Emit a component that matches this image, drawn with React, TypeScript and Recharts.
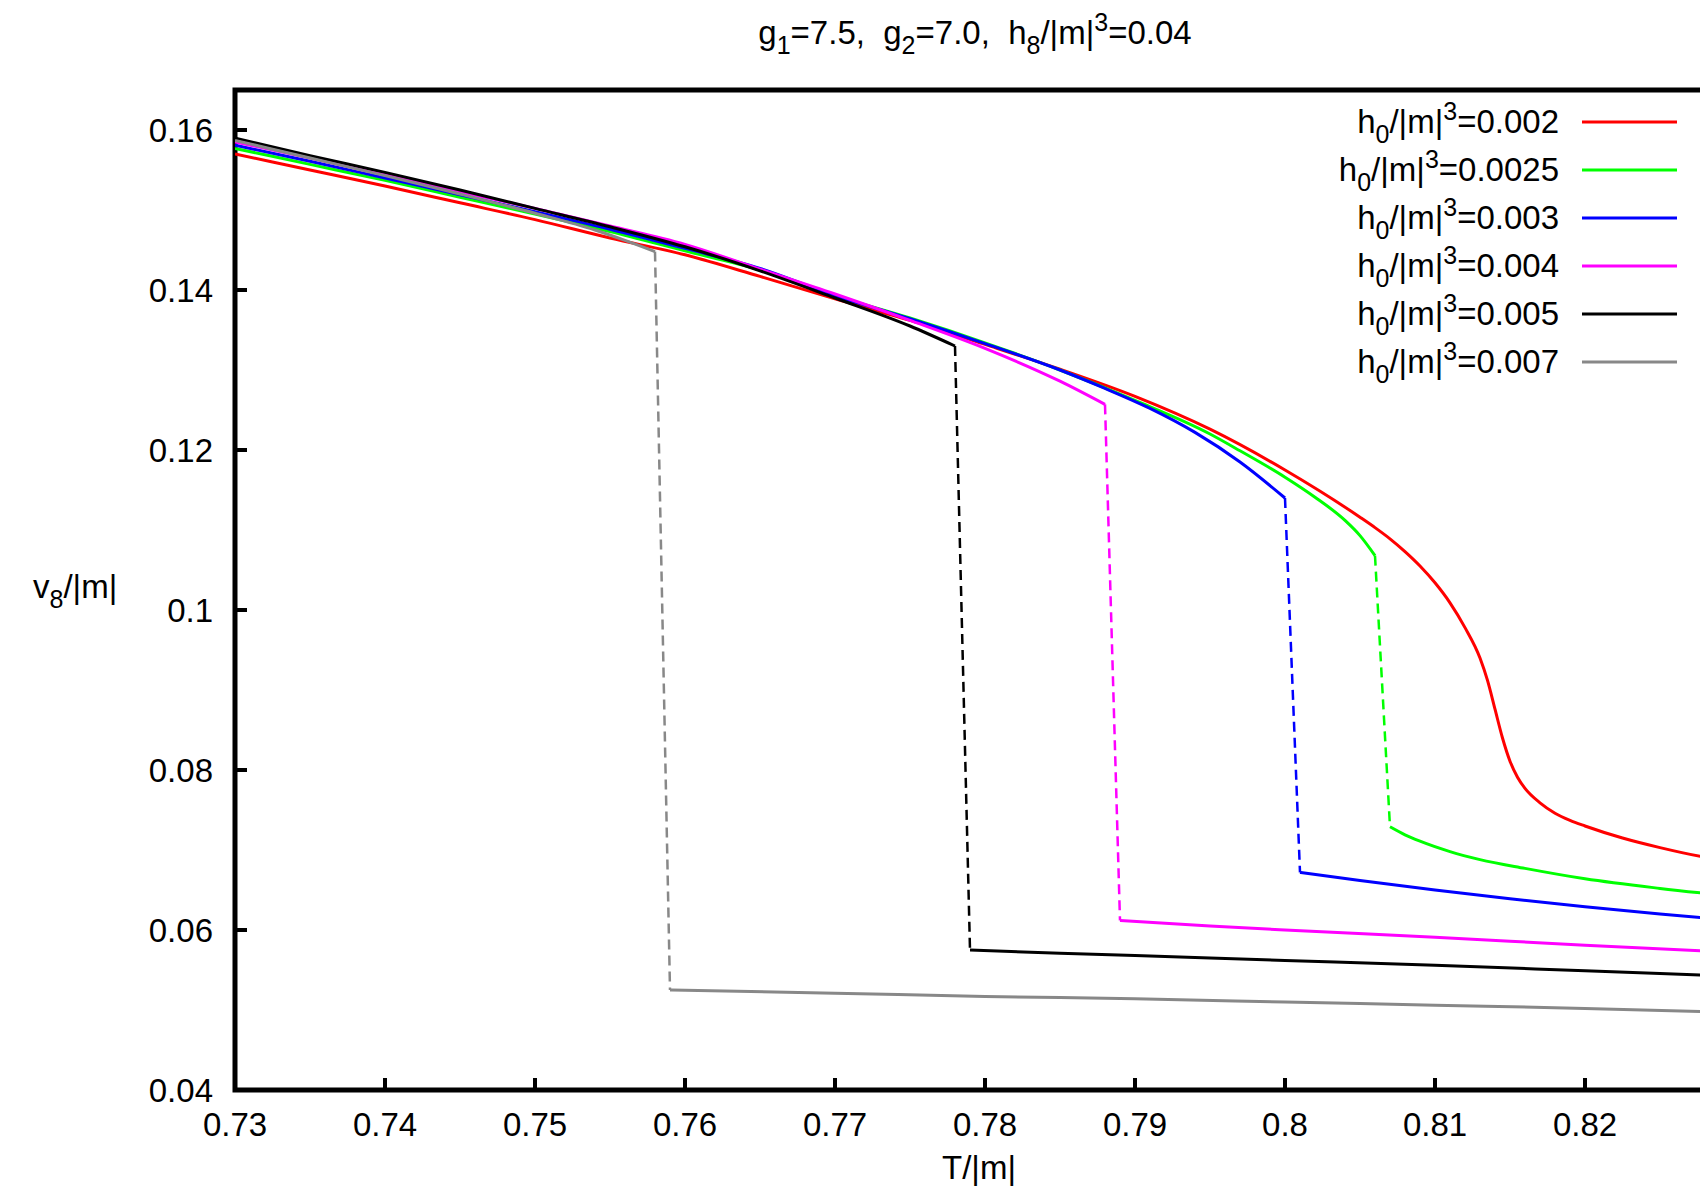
import React from 'react';
import { LineChart, Line, XAxis, YAxis, ReferenceArea, Customized } from 'recharts';

const FONT = '"Liberation Sans", Arial, sans-serif';

const xTicks = [0.73, 0.74, 0.75, 0.76, 0.77, 0.78, 0.79, 0.8, 0.81, 0.82, 0.83];
const xTickLabels = ['0.73', '0.74', '0.75', '0.76', '0.77', '0.78', '0.79', '0.8', '0.81', '0.82', ''];
const yTicks = [0.04, 0.06, 0.08, 0.1, 0.12, 0.14, 0.16];
const yTickLabels = ['0.04', '0.06', '0.08', '0.1', '0.12', '0.14', '0.16'];

const h0Values = ['0.002', '0.0025', '0.003', '0.004', '0.005', '0.007'];
const colors = ['#ff0000', '#00ff00', '#0000ff', '#ff00ff', '#000000', '#888888'];

// h0 = 0.002 (no jump, one smooth curve)
const redT = [0.73, 0.735, 0.74, 0.745, 0.75, 0.755, 0.76, 0.765, 0.77, 0.775, 0.78, 0.785, 0.79, 0.795, 0.8, 0.805, 0.806, 0.807, 0.808, 0.809, 0.81, 0.811, 0.812, 0.813, 0.8135, 0.814, 0.8145, 0.815, 0.8155, 0.816, 0.817, 0.818, 0.819, 0.82, 0.8225, 0.825, 0.8277, 0.83];
const redV = [0.157, 0.155, 0.153, 0.1509, 0.1488, 0.1465, 0.1444, 0.1417, 0.1389, 0.1362, 0.1332, 0.1301, 0.1267, 0.1226, 0.1175, 0.1116, 0.1103, 0.1089, 0.1073, 0.1055, 0.1034, 0.1009, 0.0978, 0.094, 0.0912, 0.0876, 0.084, 0.0811, 0.0791, 0.0777, 0.0759, 0.0746, 0.0737, 0.073, 0.0715, 0.0703, 0.0692, 0.0685];

// h0 = 0.0025
const greenUpperT = [0.73, 0.735, 0.74, 0.745, 0.75, 0.755, 0.76, 0.765, 0.77, 0.775, 0.78, 0.785, 0.79, 0.795, 0.797, 0.8, 0.802, 0.804, 0.805, 0.806];
const greenUpperV = [0.1577, 0.1557, 0.1537, 0.1516, 0.1495, 0.1473, 0.1449, 0.1425, 0.1393, 0.1365, 0.1334, 0.13, 0.1262, 0.122, 0.1199, 0.1166, 0.1141, 0.1112, 0.1093, 0.1068];
const greenLowerT = [0.807, 0.808, 0.809, 0.811, 0.813, 0.816, 0.82, 0.825, 0.83];
const greenLowerV = [0.0729, 0.0719, 0.0711, 0.0698, 0.0688, 0.0677, 0.0664, 0.0652, 0.0642];

// h0 = 0.003
const blueUpperT = [0.73, 0.735, 0.74, 0.745, 0.75, 0.755, 0.76, 0.765, 0.77, 0.775, 0.78, 0.785, 0.788, 0.791, 0.794, 0.797, 0.8];
const blueUpperV = [0.1581, 0.1561, 0.154, 0.1519, 0.1498, 0.1476, 0.1452, 0.1427, 0.1393, 0.1364, 0.1333, 0.13, 0.1277, 0.1252, 0.1222, 0.1185, 0.114];
const blueLowerT = [0.801, 0.805, 0.81, 0.815, 0.82, 0.825, 0.83];
const blueLowerV = [0.0672, 0.0662, 0.065, 0.0639, 0.0629, 0.062, 0.0612];

// h0 = 0.004
const magentaUpperT = [0.73, 0.735, 0.74, 0.745, 0.75, 0.755, 0.76, 0.765, 0.77, 0.775, 0.78, 0.785, 0.788];
const magentaUpperV = [0.1585, 0.1565, 0.1544, 0.1523, 0.1502, 0.148, 0.1457, 0.1426, 0.1395, 0.1362, 0.1327, 0.1286, 0.1257];
const magentaLowerT = [0.789, 0.795, 0.8, 0.81, 0.82, 0.83];
const magentaLowerV = [0.0612, 0.0605, 0.06, 0.0591, 0.0581, 0.0572];

// h0 = 0.005
const blackUpperT = [0.73, 0.735, 0.74, 0.745, 0.75, 0.755, 0.76, 0.765, 0.77, 0.775, 0.778];
const blackUpperV = [0.159, 0.1568, 0.1547, 0.1525, 0.1502, 0.1479, 0.1454, 0.1424, 0.139, 0.1355, 0.133];
const blackLowerT = [0.779, 0.785, 0.79, 0.8, 0.81, 0.82, 0.83];
const blackLowerV = [0.0575, 0.0571, 0.0568, 0.0562, 0.0556, 0.0549, 0.0542];

// h0 = 0.007
const grayUpperT = [0.73, 0.735, 0.74, 0.745, 0.75, 0.754, 0.756, 0.758];
const grayUpperV = [0.1587, 0.1565, 0.1543, 0.152, 0.1496, 0.1475, 0.1462, 0.1448];
const grayLowerT = [0.759, 0.77, 0.78, 0.79, 0.8, 0.81, 0.82, 0.83];
const grayLowerV = [0.0525, 0.0521, 0.0517, 0.0514, 0.051, 0.0506, 0.0502, 0.0497];

const toPoints = (t: number[], v: number[]) => t.map((T, i) => ({ T, v: v[i] }));

const series = [
  { upper: toPoints(redT, redV), lower: [] as { T: number; v: number }[] },
  { upper: toPoints(greenUpperT, greenUpperV), lower: toPoints(greenLowerT, greenLowerV) },
  { upper: toPoints(blueUpperT, blueUpperV), lower: toPoints(blueLowerT, blueLowerV) },
  { upper: toPoints(magentaUpperT, magentaUpperV), lower: toPoints(magentaLowerT, magentaLowerV) },
  { upper: toPoints(blackUpperT, blackUpperV), lower: toPoints(blackLowerT, blackLowerV) },
  { upper: toPoints(grayUpperT, grayUpperV), lower: toPoints(grayLowerT, grayLowerV) },
];

const BottomTick = (props: any) => {
  const { x, y, payload } = props;
  const label = xTickLabels[xTicks.indexOf(payload.value)];
  return (
    <g>
      <line x1={x} y1={y} x2={x} y2={y - 12} stroke="#000" strokeWidth={4} />
      {label ? (
        <text x={x} y={y + 46} textAnchor="middle" fontSize={33} fontFamily={FONT} fill="#000">
          {label}
        </text>
      ) : null}
    </g>
  );
};

const TopTick = (props: any) => {
  const { x, y } = props;
  return <line x1={x} y1={y} x2={x} y2={y + 12} stroke="#000" strokeWidth={4} />;
};

const LeftTick = (props: any) => {
  const { x, y, payload } = props;
  const label = yTickLabels[yTicks.indexOf(payload.value)];
  return (
    <g>
      <line x1={x} y1={y} x2={x + 12} y2={y} stroke="#000" strokeWidth={4} />
      <text x={x - 22} y={y + 11.5} textAnchor="end" fontSize={33} fontFamily={FONT} fill="#000">
        {label}
      </text>
    </g>
  );
};

const RightTick = (props: any) => {
  const { x, y } = props;
  return <line x1={x} y1={y} x2={x - 12} y2={y} stroke="#000" strokeWidth={4} />;
};

const H0Label = ({ x, y, value }: { x: number; y: number; value: string }) => (
  <text x={x} y={y} textAnchor="end" fontSize={33} fontFamily={FONT} fill="#000">
    <tspan>h</tspan>
    <tspan dy={10} fontSize={25}>0</tspan>
    <tspan dy={-10}>/|m|</tspan>
    <tspan dy={-13} fontSize={25}>3</tspan>
    <tspan dy={13}>={value}</tspan>
  </text>
);

const Annotations = () => (
  <g>
    <text x={975} y={44} textAnchor="middle" fontSize={33} fontFamily={FONT} fill="#000" style={{ whiteSpace: 'pre' }}>
      <tspan>g</tspan>
      <tspan dy={10} fontSize={25}>1</tspan>
      <tspan dy={-10}>=7.5,  g</tspan>
      <tspan dy={10} fontSize={25}>2</tspan>
      <tspan dy={-10}>=7.0,  h</tspan>
      <tspan dy={10} fontSize={25}>8</tspan>
      <tspan dy={-10}>/|m|</tspan>
      <tspan dy={-13} fontSize={25}>3</tspan>
      <tspan dy={13}>=0.04</tspan>
    </text>
    <text x={33} y={598} fontSize={33} fontFamily={FONT} fill="#000">
      <tspan>v</tspan>
      <tspan dy={10} fontSize={25}>8</tspan>
      <tspan dy={-10}>/|m|</tspan>
    </text>
    <text x={979} y={1179} textAnchor="middle" fontSize={33} fontFamily={FONT} fill="#000">
      T/|m|
    </text>
    {h0Values.map((val, i) => (
      <g key={val}>
        <H0Label x={1559} y={133 + i * 48} value={val} />
        <line x1={1582} y1={122 + i * 48} x2={1677} y2={122 + i * 48} stroke={colors[i]} strokeWidth={3} />
      </g>
    ))}
  </g>
);

export default function App() {
  return (
    <div style={{ position: 'absolute', left: 0, top: 0, width: 1700, height: 1188, overflow: 'hidden', background: '#fff' }}>
      <LineChart width={1760} height={1188} margin={{ top: 0, right: 0, bottom: 0, left: 0 }}>
        <XAxis
          dataKey="T"
          type="number"
          domain={[0.73, 0.83]}
          ticks={xTicks}
          interval={0}
          height={98}
          axisLine={false}
          tickLine={false}
          tickSize={0}
          tickMargin={0}
          tick={(p: any) => <BottomTick {...p} />}
          allowDataOverflow
        />
        <XAxis
          xAxisId="top"
          orientation="top"
          type="number"
          domain={[0.73, 0.83]}
          ticks={xTicks}
          interval={0}
          height={90}
          axisLine={false}
          tickLine={false}
          tickSize={0}
          tickMargin={0}
          tick={(p: any) => <TopTick {...p} />}
          allowDataOverflow
        />
        <YAxis
          type="number"
          domain={[0.04, 0.165]}
          ticks={yTicks}
          interval={0}
          width={235}
          axisLine={false}
          tickLine={false}
          tickSize={0}
          tickMargin={0}
          tick={(p: any) => <LeftTick {...p} />}
          allowDataOverflow
        />
        <YAxis
          yAxisId="right"
          orientation="right"
          type="number"
          domain={[0.04, 0.165]}
          ticks={yTicks}
          interval={0}
          width={25}
          axisLine={false}
          tickLine={false}
          tickSize={0}
          tickMargin={0}
          tick={(p: any) => <RightTick {...p} />}
          allowDataOverflow
        />
        {series.map((s, i) => [
          <Line
            key={`u${i}`}
            data={s.upper}
            dataKey="v"
            type="monotone"
            stroke={colors[i]}
            strokeWidth={3}
            dot={false}
            activeDot={false}
            isAnimationActive={false}
          />,
          s.lower.length > 0 ? (
            <Line
              key={`d${i}`}
              data={[s.upper[s.upper.length - 1], s.lower[0]]}
              dataKey="v"
              type="linear"
              stroke={colors[i]}
              strokeWidth={2.5}
              strokeDasharray="10 6"
              dot={false}
              activeDot={false}
              isAnimationActive={false}
            />
          ) : null,
          s.lower.length > 0 ? (
            <Line
              key={`l${i}`}
              data={s.lower}
              dataKey="v"
              type="monotone"
              stroke={colors[i]}
              strokeWidth={3}
              dot={false}
              activeDot={false}
              isAnimationActive={false}
            />
          ) : null,
        ])}
        <ReferenceArea x1={0.73} x2={0.83} y1={0.04} y2={0.165} fill="none" fillOpacity={0} stroke="#000" strokeWidth={5} />
        <Customized component={Annotations} />
      </LineChart>
    </div>
  );
}
